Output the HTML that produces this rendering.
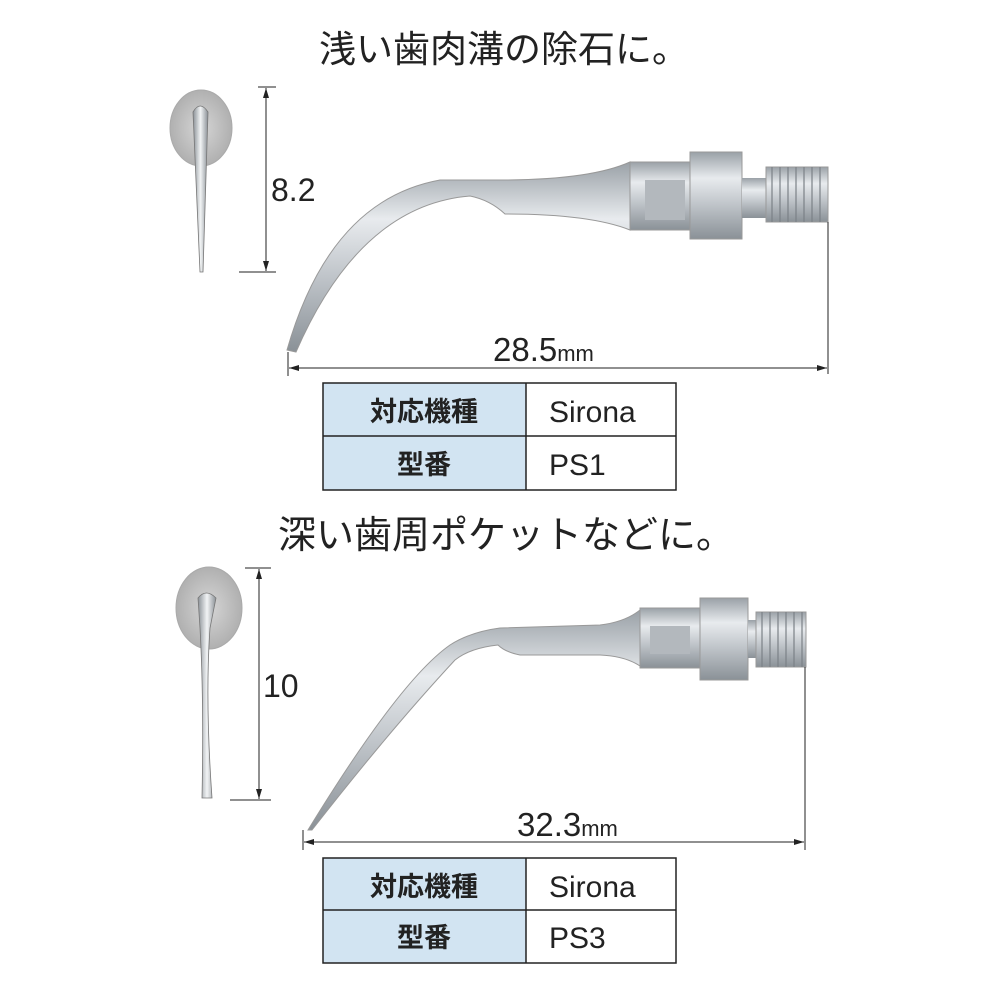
<!DOCTYPE html>
<html><head><meta charset="utf-8"><style>
html,body{margin:0;padding:0;background:#fff;}
svg{display:block;}
.t{font-family:"Liberation Sans","Noto Sans CJK JP",sans-serif;}
</style></head><body>
<svg width="1000" height="1000" viewBox="0 0 1000 1000" xmlns="http://www.w3.org/2000/svg">
<defs>
<linearGradient id="m" x1="0" y1="0" x2="0" y2="1">
<stop offset="0" stop-color="#9aa1a7"/><stop offset="0.3" stop-color="#e8ebee"/><stop offset="0.6" stop-color="#c0c5ca"/><stop offset="1" stop-color="#8a9197"/></linearGradient>
<linearGradient id="h" x1="0" y1="0" x2="1" y2="0">
<stop offset="0" stop-color="#8a9096"/><stop offset="0.5" stop-color="#f2f4f5"/><stop offset="1" stop-color="#8a9096"/></linearGradient>
<radialGradient id="d"><stop offset="0" stop-color="#d6d6d6"/><stop offset="1" stop-color="#b0b0b0"/></radialGradient>
<marker id="a" markerWidth="10" markerHeight="8" refX="10" refY="4" orient="auto-start-reverse"><path d="M0,1 L10,4 L0,7z" fill="#222"/></marker>
</defs>

<text class="t" x="504" y="62" font-size="37" text-anchor="middle" fill="#222">浅い歯肉溝の除石に。</text>
<ellipse cx="201" cy="128" rx="31" ry="38" fill="url(#d)" stroke="#aaa"/>
<path d="M193,112 Q200,100 208,112 L203,272 L200,272 Z" fill="url(#h)" stroke="#777" stroke-width="0.8"/>
<line x1="266" y1="88" x2="266" y2="271" stroke="#222" marker-start="url(#a)" marker-end="url(#a)"/>
<line x1="258" y1="87" x2="276" y2="87" stroke="#222"/>
<line x1="239" y1="272" x2="276" y2="272" stroke="#222"/>
<text class="t" x="271" y="201" font-size="32" fill="#222">8.2</text>
<path d="M287,350 Q330,200 440,180 L500,180 Q590,180 630,162 L630,230 Q590,214 505,214 Q490,200 470,196 Q360,205 296,352 Z" fill="url(#m)" stroke="#999"/>
<rect x="630" y="162" width="62" height="68" fill="url(#m)" stroke="#999"/>
<rect x="645" y="180" width="40" height="40" fill="#b3b8bd"/>
<rect x="690" y="152" width="52" height="87" fill="url(#m)" stroke="#999"/>
<rect x="742" y="178" width="24" height="40" fill="url(#m)"/>
<rect x="766" y="167" width="62" height="55" fill="url(#m)" stroke="#999"/>
<g stroke="#7b8187" stroke-width="1.2">
<line x1="772" y1="167" x2="772" y2="222"/><line x1="780" y1="167" x2="780" y2="222"/><line x1="788" y1="167" x2="788" y2="222"/><line x1="796" y1="167" x2="796" y2="222"/><line x1="804" y1="167" x2="804" y2="222"/><line x1="812" y1="167" x2="812" y2="222"/><line x1="820" y1="167" x2="820" y2="222"/></g>
<line x1="828" y1="222" x2="828" y2="374" stroke="#222"/>
<line x1="288" y1="352" x2="288" y2="376" stroke="#222"/>
<line x1="289" y1="368" x2="827" y2="368" stroke="#222" marker-start="url(#a)" marker-end="url(#a)"/>
<text class="t" x="493" y="361" font-size="33" fill="#222">28.5<tspan font-size="22">mm</tspan></text>
<rect x="323" y="383" width="203" height="107" fill="#d2e4f2"/>
<rect x="323" y="383" width="353" height="107" fill="none" stroke="#222" stroke-width="1.5"/>
<line x1="323" y1="436" x2="676" y2="436" stroke="#222" stroke-width="1.5"/>
<line x1="526" y1="383" x2="526" y2="490" stroke="#222" stroke-width="1.5"/>
<text class="t" x="424" y="421" font-size="27" font-weight="bold" text-anchor="middle" fill="#222">対応機種</text>
<text class="t" x="424" y="474" font-size="27" font-weight="bold" text-anchor="middle" fill="#222">型番</text>
<text class="t" x="549" y="422" font-size="30" fill="#222">Sirona</text>
<text class="t" x="549" y="475" font-size="30" fill="#222">PS1</text>

<text class="t" x="506" y="548" font-size="38" text-anchor="middle" fill="#222">深い歯周ポケットなどに。</text>
<ellipse cx="209" cy="608" rx="33" ry="41" fill="url(#d)" stroke="#aaa"/>
<path d="M198,598 Q206,588 216,598 L210,628 Q205,700 212,798 L202,798 Q204,700 200,628 Z" fill="url(#h)" stroke="#777" stroke-width="0.8"/>
<line x1="259" y1="569" x2="259" y2="799" stroke="#222" marker-start="url(#a)" marker-end="url(#a)"/>
<line x1="245" y1="568" x2="271" y2="568" stroke="#222"/>
<line x1="230" y1="800" x2="271" y2="800" stroke="#222"/>
<text class="t" x="263" y="697" font-size="32" fill="#222">10</text>
<path d="M308,830 Q400,680 450,645 Q470,632 500,628 L600,625 Q625,622 640,610 L640,666 Q625,656 600,655 L520,655 Q505,652 498,645 Q470,648 455,660 Q390,730 312,830 Z" fill="url(#m)" stroke="#999"/>
<rect x="640" y="608" width="62" height="60" fill="url(#m)" stroke="#999"/>
<rect x="650" y="626" width="40" height="28" fill="#b3b8bd"/>
<rect x="700" y="598" width="48" height="82" fill="url(#m)" stroke="#999"/>
<rect x="748" y="620" width="8" height="38" fill="url(#m)"/>
<rect x="756" y="612" width="50" height="55" fill="url(#m)" stroke="#999"/>
<g stroke="#7b8187" stroke-width="1.2">
<line x1="762" y1="612" x2="762" y2="667"/><line x1="770" y1="612" x2="770" y2="667"/><line x1="778" y1="612" x2="778" y2="667"/><line x1="786" y1="612" x2="786" y2="667"/><line x1="794" y1="612" x2="794" y2="667"/><line x1="802" y1="612" x2="802" y2="667"/></g>
<line x1="805" y1="667" x2="805" y2="850" stroke="#222"/>
<line x1="303" y1="830" x2="303" y2="850" stroke="#222"/>
<line x1="304" y1="842" x2="804" y2="842" stroke="#222" marker-start="url(#a)" marker-end="url(#a)"/>
<text class="t" x="517" y="836" font-size="33" fill="#222">32.3<tspan font-size="22">mm</tspan></text>
<rect x="323" y="858" width="203" height="105" fill="#d2e4f2"/>
<rect x="323" y="858" width="353" height="105" fill="none" stroke="#222" stroke-width="1.5"/>
<line x1="323" y1="910" x2="676" y2="910" stroke="#222" stroke-width="1.5"/>
<line x1="526" y1="858" x2="526" y2="963" stroke="#222" stroke-width="1.5"/>
<text class="t" x="424" y="896" font-size="27" font-weight="bold" text-anchor="middle" fill="#222">対応機種</text>
<text class="t" x="424" y="947" font-size="27" font-weight="bold" text-anchor="middle" fill="#222">型番</text>
<text class="t" x="549" y="897" font-size="30" fill="#222">Sirona</text>
<text class="t" x="549" y="948" font-size="30" fill="#222">PS3</text>
</svg>
</body></html>
